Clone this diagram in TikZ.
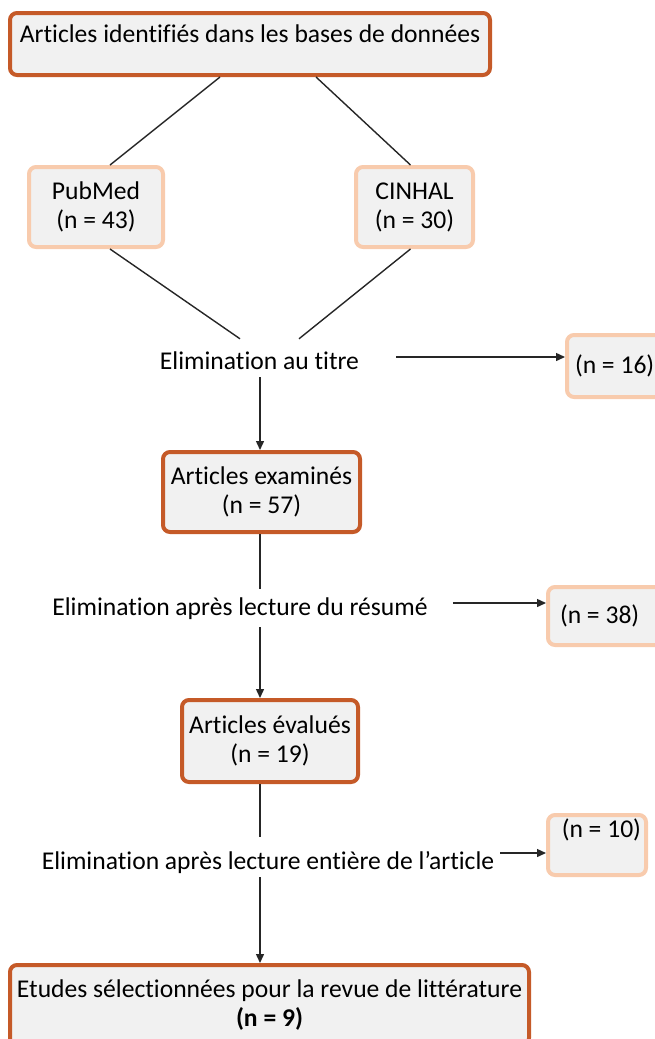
\documentclass[tikz,border=0pt]{standalone}
\usepackage{fontspec}
\setmainfont[Ligatures=NoCommon]{Carlito}
\usetikzlibrary{arrows.meta}
\definecolor{dorange}{RGB}{197,90,40}
\definecolor{lorange}{RGB}{248,203,173}
\definecolor{boxgray}{RGB}{241,241,241}
\tikzset{
  darkbox/.style={draw=dorange, line width=4pt, fill=boxgray, rounded corners=7pt, align=center, inner sep=2pt},
  lightbox/.style={draw=lorange, line width=4pt, fill=boxgray, rounded corners=7pt, align=center, inner sep=2pt},
  plain/.style={inner sep=2pt, text height=18pt, text depth=6pt},
  conn/.style={line width=1.4pt, black!85},
  arr/.style={conn, -{Triangle[length=9pt,width=8pt]}},
}
\begin{document}
\begin{tikzpicture}[x=1pt,y=-1pt,font=\fontsize{25.6}{29}\selectfont]
\useasboundingbox (0,0) rectangle (655,1039);
\clip (0,0) rectangle (655,1039);
\coordinate (spine) at (260,0);
% boxes
\node[darkbox, minimum width=480pt, minimum height=62pt, text height=18pt, text depth=22pt] (top) at (250,44) {Articles identifiés dans les bases de données};
\node[lightbox, minimum width=134pt, minimum height=80pt] (pub) at (96,207) {PubMed\\(n = 43)};
\node[lightbox, minimum width=117pt, minimum height=80pt] (cin) at (414.5,207) {CINHAL\\(n = 30)};
\node[plain] (elim1) at (259.5,363) {Elimination au titre};
\node[lightbox, anchor=west, minimum width=115pt, minimum height=62pt, text width=99pt, align=flush left, inner xsep=8pt] (n16) at (565,366) {(n = 16)};
\node[darkbox, minimum width=197pt, minimum height=80pt] (exam) at (261.5,492) {Articles examinés\\(n = 57)};
\node[plain] (elim2) at (240,609) {Elimination après lecture du résumé};
\node[lightbox, anchor=west, minimum width=120pt, minimum height=58pt, text width=100pt, align=flush left, inner xsep=12pt] (n38) at (546,616) {(n = 38)};
\node[darkbox, minimum width=176pt, minimum height=82pt] (eval) at (270,741) {Articles évalués\\(n = 19)};
\node[plain] (elim3) at (268,863) {Elimination après lecture entière de l’article};
\node[lightbox, anchor=west, minimum width=98pt, minimum height=60pt, text height=18pt, text depth=34pt, text width=88pt, align=flush right, inner xsep=3pt] (n10) at (546,845) {(n = 10)};
\node[darkbox, minimum width=519pt, minimum height=80pt] (final) at (269.5,1005) {Etudes sélectionnées pour la revue de littérature\\\textbf{(n = 9)}};
% connectors
\draw[conn] ([xshift=-30pt]top.south) -- ([xshift=14pt]pub.north);
\draw[conn] ([xshift=66pt]top.south) -- ([xshift=-4pt]cin.north);
\draw[conn] ([xshift=14pt]pub.south) -- ([xshift=-19.5pt,yshift=10pt]elim1.north);
\draw[conn] ([xshift=-4pt]cin.south) -- ([xshift=39.5pt,yshift=10pt]elim1.north);
\draw[arr] ([xshift=35pt,yshift=6pt]elim1.east) coordinate (a1) -- (a1 -| n16.west);
\draw[arr] (elim1.south -| spine) -- (exam.north -| spine);
\draw[conn, shorten >=6pt] (exam.south -| spine) -- (elim2.north -| spine);
\draw[arr] ([xshift=23pt,yshift=6pt]elim2.east) coordinate (a2) -- (a2 -| n38.west);
\draw[arr, shorten <=4pt] (elim2.south -| spine) -- (eval.north -| spine);
\draw[conn, shorten >=12pt] (eval.south -| spine) -- (elim3.north -| spine);
\draw[arr] ([xshift=4pt,yshift=10pt]elim3.east) coordinate (a3) -- (a3 -| n10.west);
\draw[arr] (elim3.south -| spine) -- (final.north -| spine);
\end{tikzpicture}
\end{document}
